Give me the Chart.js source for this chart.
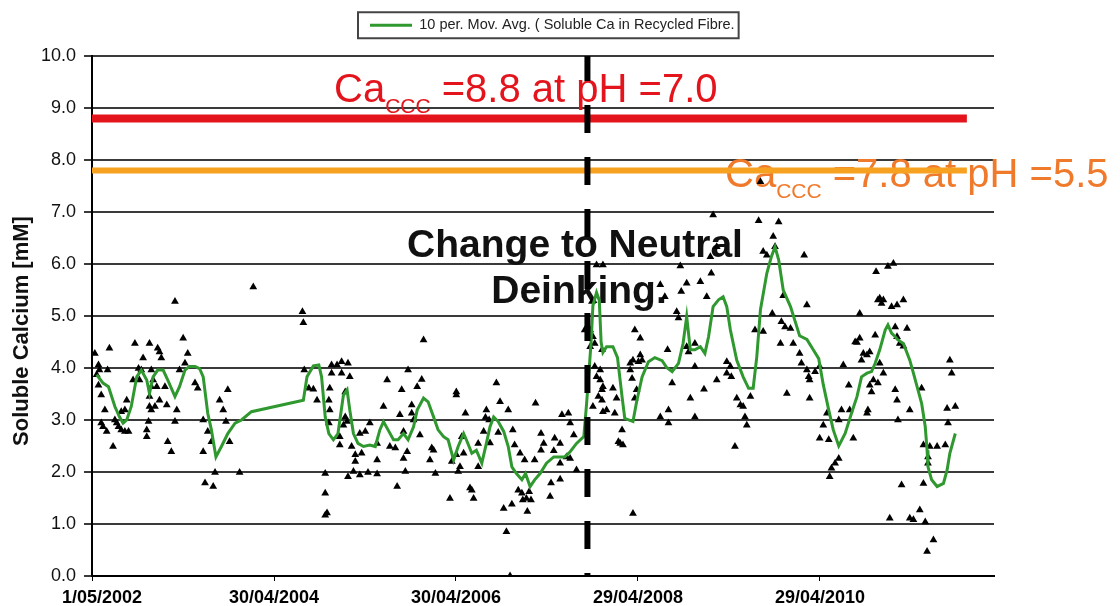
<!DOCTYPE html>
<html>
<head>
<meta charset="utf-8">
<title>Soluble Calcium in Recycled Fibre</title>
<script src="https://cdn.jsdelivr.net/npm/chart.js@4.4.1/dist/chart.umd.min.js"></script>
<style>
  html, body { margin: 0; padding: 0; background: #ffffff; }
  #wrap { width: 1120px; height: 606px; }
</style>
</head>
<body>
<div id="wrap"><canvas id="chart" width="1120" height="606"></canvas></div>
<script>
// ---- Sample dates (decimal years) and soluble Ca (mM) ----
const sampleYears = [
  2002.36,2002.38,2002.40,2002.40,2002.41,2002.43,2002.43,2002.45,2002.47,2002.49,2002.50,2002.52,2002.56,2002.58,2002.60,
  2002.62,2002.65,2002.65,2002.69,2002.69,2002.71,2002.73,2002.78,2002.80,2002.84,2002.85,2002.87,2002.89,2002.93,2002.93,
  2002.95,2002.96,2002.96,2002.96,2002.98,2002.98,2002.98,2003.00,2003.02,2003.04,2003.05,2003.07,2003.07,2003.09,2003.13,
  2003.15,2003.16,2003.20,2003.24,2003.24,2003.26,2003.29,2003.33,2003.35,2003.38,2003.46,2003.49,2003.55,2003.55,2003.57,
  2003.60,2003.64,2003.66,2003.68,2003.73,2003.77,2003.80,2003.82,2003.84,2003.95,2004.10,
  2004.64,2004.65,2004.66,2004.71,2004.76,2004.80,2004.89,2004.89,2004.89,2004.91,2004.93,2004.93,2004.94,2004.94,2004.96,
  2004.96,2005.02,2005.05,2005.05,2005.07,2005.07,2005.09,2005.11,2005.11,2005.13,2005.14,2005.14,2005.16,2005.18,2005.20,
  2005.22,2005.22,2005.27,2005.27,2005.29,2005.33,2005.36,2005.38,2005.46,2005.46,2005.46,2005.53,2005.57,2005.60,2005.66,
  2005.68,2005.71,2005.73,2005.75,2005.75,2005.77,2005.79,2005.80,2005.84,2005.84,2005.86,2005.90,2005.93,2005.95,2005.97,
  2006.04,2006.06,2006.08,2006.10,2006.26,2006.28,2006.33,2006.33,2006.33,2006.35,2006.37,2006.39,2006.41,2006.43,2006.48,
  2006.50,2006.52,2006.57,2006.57,
  2006.63,2006.65,2006.66,2006.69,2006.70,2006.77,2006.79,2006.81,2006.85,2006.88,2006.90,2006.92,2006.94,2006.95,2006.97,
  2007.01,2007.03,2007.05,2007.06,2007.08,2007.10,2007.11,2007.13,2007.15,2007.19,2007.20,2007.26,2007.26,2007.29,2007.36,
  2007.37,2007.40,2007.41,2007.47,2007.47,2007.47,2007.49,2007.54,2007.56,2007.58,2007.58,2007.62,2007.65,
  2007.74,2007.80,2007.80,2007.82,2007.83,2007.83,2007.85,2007.85,2007.87,2007.87,2007.89,2007.91,2007.91,2007.93,2007.93,
  2007.93,2007.94,2007.94,2007.94,2007.98,2008.05,2008.07,2008.09,2008.11,2008.13,2008.15,2008.16,2008.24,2008.24,2008.26,
  2008.27,2008.27,2008.29,2008.29,2008.31,2008.33,2008.35,2008.35,2008.37,2008.57,2008.57,2008.62,2008.65,2008.66,2008.66,
  2008.70,2008.75,2008.77,2008.79,2008.80,2008.86,2008.86,2008.88,2008.90,2008.95,2008.95,2008.95,2009.01,2009.05,2009.08,
  2009.12,2009.13,2009.15,2009.19,2009.19,2009.30,2009.30,2009.34,2009.35,2009.39,2009.41,2009.45,2009.48,2009.50,2009.52,
  2009.56,2009.61,2009.65,2009.67,2009.70,2009.70,2009.74,2009.80,2009.81,2009.83,2009.87,2009.89,2009.90,2009.92,2009.94,
  2009.96,2010.00,2010.03,2010.10,
  2010.12,2010.15,2010.18,2010.18,2010.20,2010.21,2010.21,2010.27,2010.32,2010.32,2010.36,2010.40,2010.42,2010.43,2010.45,
  2010.49,2010.53,2010.53,2010.56,2010.58,2010.64,2010.65,2010.69,2010.71,2010.73,2010.76,2010.76,2010.78,2010.80,2010.84,
  2010.84,2010.85,2010.87,2010.87,2010.89,2010.91,2010.93,2010.94,2010.96,2010.96,2010.98,2010.98,2011.00,2011.02,2011.02,
  2011.07,2011.09,2011.11,2011.13,2011.15,2011.15,2011.17,2011.17,2011.17,2011.18,2011.20,2011.22,2011.24,2011.24,2011.28,
  2011.31,2011.31,2011.35,2011.42,2011.44,2011.46,2011.46,2011.48,2011.50,2011.51,2011.51,2011.53,2011.57,2011.61,2011.70,
  2011.72,2011.73,2011.75,2011.77,2011.81
];
const sampleCa = [
  4.28,3.87,4.06,3.67,3.96,3.48,2.94,2.87,3.19,2.78,3.96,4.38,2.49,3.00,2.94,
  2.87,2.81,3.16,2.78,3.19,3.38,2.78,3.77,4.47,3.99,3.77,3.96,4.19,2.81,2.68,
  2.97,4.47,3.26,3.45,3.96,3.19,3.64,3.77,3.26,3.64,4.38,4.31,3.38,4.19,3.64,
  3.29,2.58,2.39,5.28,2.97,3.19,3.96,4.57,4.09,4.28,3.71,3.61,3.00,2.39,1.79,
  2.78,2.58,1.72,1.99,3.38,3.19,2.97,3.58,2.58,1.99,5.56,
  5.08,4.87,3.96,3.61,3.59,3.38,1.97,1.59,1.17,1.21,3.38,2.94,3.61,3.19,4.06,
  3.90,4.06,2.68,2.52,4.12,3.90,2.90,3.54,3.06,2.97,4.09,1.91,3.83,2.49,2.01,
  2.33,2.20,2.74,1.94,2.36,2.78,1.99,2.94,2.23,1.96,2.55,3.26,3.77,2.49,2.46,
  1.72,3.10,3.58,2.78,2.26,2.01,2.39,3.96,3.29,3.13,3.00,3.64,2.71,3.78,4.54,
  2.23,2.46,2.42,1.97,1.49,2.20,3.54,3.48,2.33,2.01,2.10,2.68,2.36,3.13,1.69,
  1.65,1.49,2.55,2.10,
  2.78,3.05,3.19,3.00,2.56,3.71,2.76,3.35,1.30,0.85,3.19,0.00,1.38,2.81,2.52,
  1.65,2.36,1.59,1.46,2.23,1.49,1.24,1.62,1.46,2.23,3.32,2.74,2.42,2.55,1.53,
  1.79,2.41,2.65,1.86,2.55,2.17,3.10,2.29,3.13,2.94,2.26,2.71,2.04,
  4.73,4.73,4.41,5.28,4.60,3.26,4.47,4.03,5.98,3.83,3.45,3.96,3.77,4.35,3.58,
  3.38,5.98,3.64,3.16,3.19,3.61,3.13,3.42,2.58,2.55,2.81,2.52,4.09,3.96,3.80,
  4.15,1.20,4.73,3.42,3.58,4.12,4.57,4.25,4.15,5.60,3.06,5.37,4.35,3.19,2.94,
  3.71,5.08,4.96,5.96,5.47,5.63,4.41,4.31,3.42,4.47,4.03,3.06,5.66,3.59,5.37,
  6.14,5.82,6.94,6.33,3.77,4.12,3.90,4.03,3.83,2.49,3.42,3.29,3.26,3.06,2.90,
  3.45,4.73,6.83,7.58,6.24,4.70,6.17,5.05,6.53,6.33,6.81,4.47,4.89,5.39,4.79,
  3.51,4.76,4.47,4.28,
  4.09,6.17,5.21,3.96,3.83,3.77,3.42,3.93,4.03,2.65,2.90,3.13,2.62,1.91,2.07,
  2.17,2.26,3.00,3.19,4.06,3.67,3.19,2.65,4.50,4.49,5.05,4.57,4.15,4.28,4.25,
  3.13,3.19,4.31,3.67,3.54,3.77,4.63,5.85,5.31,3.71,5.34,4.09,5.24,5.31,3.90,
  5.95,1.11,5.18,6.01,4.79,3.58,5.21,4.60,3.38,3.00,4.47,1.75,5.31,4.42,4.76,
  3.19,1.11,1.08,1.27,3.61,2.52,1.78,1.04,0.47,2.29,2.17,2.49,0.69,2.49,2.52,
  3.22,2.94,4.15,3.90,3.26
];

// ---- 10-period moving average of soluble Ca ----
const avgYears = [
  2002.38,2002.45,2002.51,2002.58,2002.63,2002.67,2002.71,2002.76,2002.82,2002.87,2002.93,2002.96,2003.00,2003.05,2003.11,
  2003.16,2003.24,2003.29,2003.35,2003.40,2003.46,2003.51,2003.55,2003.60,2003.64,2003.69,2003.75,2003.82,2003.90,2003.97,
  2004.08,2004.65,2004.69,2004.76,2004.82,2004.85,2004.89,2004.93,2004.98,2005.03,2005.09,2005.13,2005.16,2005.20,2005.25,
  2005.31,2005.38,2005.44,2005.49,2005.53,2005.58,2005.64,2005.69,2005.75,2005.80,2005.86,2005.90,2005.97,2006.02,2006.08,
  2006.13,2006.19,2006.24,2006.30,2006.35,2006.41,2006.44,2006.50,2006.55,2006.61,2006.66,2006.70,2006.74,2006.79,2006.85,
  2006.90,2006.94,2006.99,2007.05,2007.09,2007.14,2007.19,2007.25,2007.32,2007.40,2007.47,2007.52,2007.58,2007.65,2007.73,
  2007.76,2007.79,2007.81,2007.83,2007.87,2007.90,2007.92,2007.94,2007.98,2008.05,2008.10,2008.15,2008.18,2008.27,2008.31,
  2008.37,2008.44,2008.51,2008.59,2008.64,2008.70,2008.77,2008.82,2008.86,2008.90,2008.95,2009.01,2009.06,2009.10,2009.15,
  2009.21,2009.26,2009.30,2009.34,2009.41,2009.48,2009.54,2009.59,2009.63,2009.67,2009.74,2009.79,2009.83,2009.87,2009.92,
  2010.00,2010.07,2010.10,2010.18,2010.25,2010.31,2010.36,2010.42,2010.47,2010.53,2010.60,2010.67,2010.73,2010.78,2010.84,
  2010.89,2010.93,2010.98,2011.04,2011.07,2011.11,2011.15,2011.18,2011.24,2011.31,2011.35,2011.40,2011.44,2011.48,2011.50,
  2011.51,2011.55,2011.61,2011.68,2011.72,2011.75,2011.81
];
const avgCa = [
  3.87,3.71,3.64,3.26,3.06,2.94,3.00,3.26,3.83,3.96,3.77,3.51,3.83,3.96,3.96,
  3.77,3.45,3.64,3.96,4.03,4.03,3.99,3.83,3.13,2.81,2.29,2.49,2.74,2.94,3.00,
  3.16,3.38,3.83,4.04,4.06,3.83,3.06,2.74,2.62,2.74,3.48,3.58,3.19,2.74,2.55,
  2.49,2.52,2.49,2.81,2.97,2.81,2.62,2.62,2.74,2.62,2.87,3.19,3.42,3.35,3.06,
  2.81,2.68,2.62,2.23,2.49,2.74,2.62,2.36,2.42,2.17,2.55,2.87,3.06,2.97,2.78,
  2.49,2.10,1.97,1.85,1.97,1.72,1.85,1.97,2.17,2.29,2.29,2.29,2.39,2.55,2.68,
  3.30,4.00,4.50,5.20,5.45,5.30,4.50,4.30,4.41,4.41,4.20,3.45,3.03,2.97,3.35,
  3.83,4.12,4.20,4.14,4.01,3.93,4.09,4.47,4.99,4.35,4.35,4.41,4.28,4.60,5.18,
  5.31,5.37,5.18,4.73,4.15,3.83,3.61,3.61,4.22,5.12,5.82,6.14,6.33,6.08,5.50,
  5.18,4.79,4.62,4.55,4.35,4.18,3.68,3.19,2.81,2.50,2.74,3.13,3.45,3.83,3.90,
  3.93,4.09,4.35,4.73,4.83,4.67,4.60,4.54,4.47,4.15,3.90,3.58,3.32,2.87,2.42,
  2.10,1.85,1.72,1.78,2.04,2.36,2.74
];

// ---- Critical calcium concentrations (CCC) and reference dates ----
const cccValues = [8.8, 7.8];
const cccPH = ['7.0', '5.5'];
const cccEndDate = '9/12/2011';
const changeDate = '9/10/2007';

// ---- Axis ----
const xTickLabels = ['1/05/2002', '30/04/2004', '30/04/2006', '29/04/2008', '29/04/2010'];
const xAxisEnd = '27/03/2012';
const yTicks = [0, 1, 2, 3, 4, 5, 6, 7, 8, 9, 10];
const yTitle = 'Soluble Calcium [mM]';

const FONT = "'Liberation Sans', Arial, Helvetica, sans-serif";
const GREEN = '#2f982f';
const RED = '#e3141c';
const ORANGE_LINE = '#f7a121';
const ORANGE_TEXT = '#f07a2c';

function decimalYear(label) {
  const [d, m, y] = label.split('/').map(Number);
  const start = Date.UTC(y, 0, 1);
  const end = Date.UTC(y + 1, 0, 1);
  return y + (Date.UTC(y, m - 1, d) - start) / (end - start);
}

const xTickValues = xTickLabels.map(decimalYear);
const xMin = xTickValues[0];
const xMax = decimalYear(xAxisEnd);
const changeX = decimalYear(changeDate);
const cccEndX = decimalYear(cccEndDate);

const samplePoints = sampleYears.map((x, i) => ({ x, y: sampleCa[i] }));
const avgPoints = avgYears.map((x, i) => ({ x, y: avgCa[i] }));

// Text overlays: axis title, CCC labels and the process change note
const overlayText = {
  id: 'overlayText',
  beforeDatasetsDraw(chart) {
    const c = chart.ctx;
    c.save();
    c.textBaseline = 'alphabetic';
    c.textAlign = 'left';
    const cccLabel = (x, y, color, value, ph) => {
      c.fillStyle = color;
      c.font = '40px ' + FONT;
      c.fillText('Ca', x, y);
      let w = c.measureText('Ca').width;
      c.font = '21px ' + FONT;
      c.fillText('CCC', x + w, y + 11);
      w += c.measureText('CCC').width;
      c.font = '40px ' + FONT;
      c.fillText(' =' + value.toFixed(1) + ' at pH =' + ph, x + w, y);
    };
    cccLabel(334, 102, RED, cccValues[0], cccPH[0]);
    cccLabel(725, 187, ORANGE_TEXT, cccValues[1], cccPH[1]);

    c.fillStyle = '#111111';
    c.font = 'bold 39px ' + FONT;
    c.textAlign = 'center';
    c.fillText('Change to Neutral', 575, 257);
    c.fillText('Deinking.', 579, 303);

    // vertical axis title
    c.translate(22, 331);
    c.rotate(-Math.PI / 2);
    c.font = 'bold 22px ' + FONT;
    c.textBaseline = 'middle';
    c.fillText(yTitle, 0, 0);
    c.restore();
  }
};

// Legend placement and frame
const legendFrame = {
  id: 'legendFrame',
  afterLayout(chart) {
    const lg = chart.legend;
    const w = lg.right - lg.left;
    const h = lg.bottom - lg.top;
    lg.left = 360; lg.right = 360 + w;
    lg.top = 8; lg.bottom = 8 + h;
  },
  afterDraw(chart) {
    const hb = chart.legend.legendHitBoxes[0];
    if (!hb) return;
    const c = chart.ctx;
    c.save();
    c.strokeStyle = '#444444';
    c.lineWidth = 2;
    const cy = hb.top + hb.height / 2;
    c.strokeRect(hb.left - 12, cy - 13, hb.width + 16, 26);
    c.restore();
  }
};

Chart.defaults.font.family = FONT;
Chart.defaults.color = '#111111';

new Chart(document.getElementById('chart'), {
  data: {
    datasets: [
      {
        type: 'line',
        label: 'Change to neutral deinking',
        data: [{ x: changeX, y: 0 }, { x: changeX, y: 10 }],
        borderColor: '#000000',
        borderWidth: 6,
        borderDash: [28, 24],
        borderDashOffset: 25,
        pointRadius: 0,
        order: 0
      },
      {
        type: 'line',
        label: '10 per. Mov. Avg. ( Soluble Ca in Recycled Fibre.',
        data: avgPoints,
        borderColor: GREEN,
        backgroundColor: GREEN,
        borderWidth: 3,
        pointRadius: 0,
        pointStyle: 'line',
        tension: 0,
        order: 1
      },
      {
        type: 'line',
        label: 'CCC pH 7.0',
        data: [{ x: xMin, y: cccValues[0] }, { x: cccEndX, y: cccValues[0] }],
        borderColor: RED,
        borderWidth: 8,
        pointRadius: 0,
        order: 2
      },
      {
        type: 'line',
        label: 'CCC pH 5.5',
        data: [{ x: xMin, y: cccValues[1] }, { x: cccEndX, y: cccValues[1] }],
        borderColor: ORANGE_LINE,
        borderWidth: 6,
        pointRadius: 0,
        order: 2
      },
      {
        type: 'scatter',
        label: 'Soluble Ca in Recycled Fibre',
        data: samplePoints,
        pointStyle: 'triangle',
        pointRadius: 4.5,
        backgroundColor: '#000000',
        borderWidth: 0,
        order: 3
      }
    ]
  },
  options: {
    responsive: false,
    animation: false,
    layout: { padding: { top: 21.5, right: 126, bottom: 0, left: 0 } },
    plugins: {
      tooltip: { enabled: false },
      legend: {
        position: 'top',
        align: 'start',
        labels: {
          filter: (item) => item.datasetIndex === 1,
          usePointStyle: true,
          pointStyleWidth: 42,
          color: '#222222',
          font: { size: 14.5 },
          padding: 10
        }
      }
    },
    scales: {
      x: {
        type: 'linear',
        min: xMin,
        max: xMax,
        afterBuildTicks: (scale) => { scale.ticks = xTickValues.map(v => ({ value: v })); },
        afterFit: (scale) => { scale.height = 30; },
        ticks: {
          autoSkip: false,
          maxRotation: 0,
          padding: 6,
          color: '#000000',
          font: { size: 18, weight: 'bold' },
          // the first date sits just right of the axis corner
          callback: (value, index) => (index === 0 ? '    ' : '') + xTickLabels[index]
        },
        grid: { drawOnChartArea: false, drawTicks: true, tickLength: 5, color: '#000000', lineWidth: 1 },
        border: { display: true, color: '#000000', width: 2 }
      },
      y: {
        type: 'linear',
        min: 0,
        max: 10,
        afterBuildTicks: (scale) => { scale.ticks = yTicks.map(v => ({ value: v })); },
        afterFit: (scale) => { scale.width = 92; },
        ticks: {
          padding: 8,
          color: '#111111',
          font: { size: 18 },
          callback: (value) => Number(value).toFixed(1)
        },
        grid: { color: '#3a3a3a', lineWidth: 2, tickLength: 8, drawTicks: true },
        border: { display: true, color: '#000000', width: 2 }
      }
    }
  },
  plugins: [overlayText, legendFrame]
});
</script>
</body>
</html>
